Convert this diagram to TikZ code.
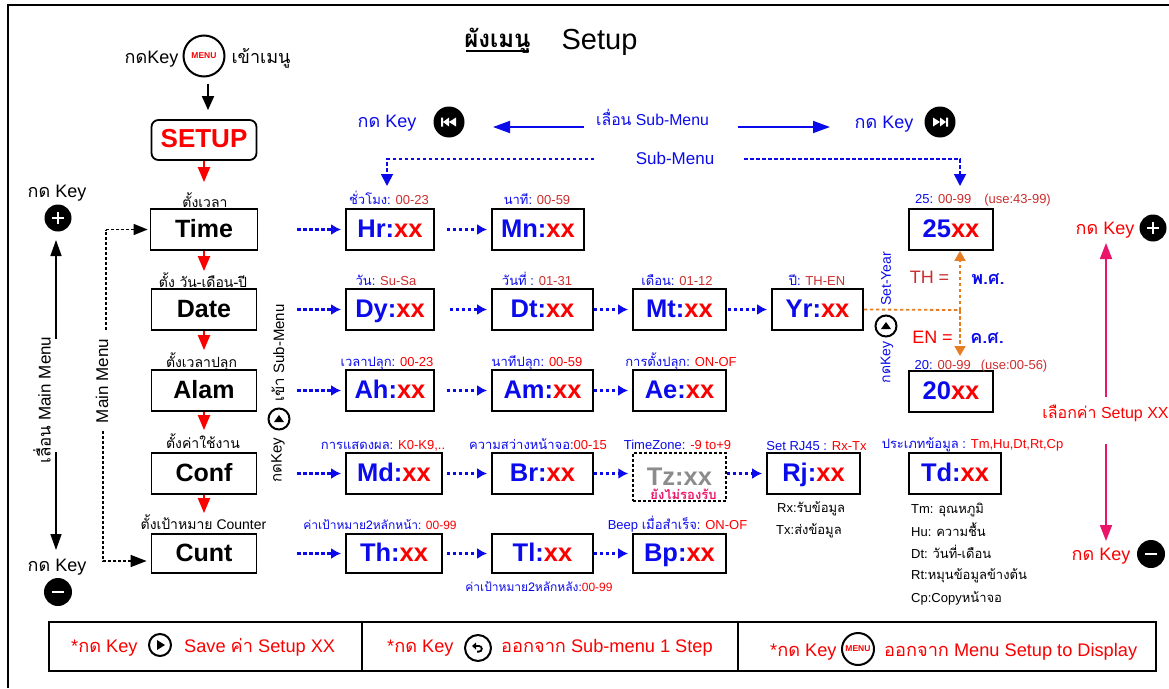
\documentclass[tikz,border=0pt]{standalone}
\usepackage{fontspec}
\setmainfont{Liberation Sans}
\newfontfamily\thaifont[Script=Thai]{Loma}
\usetikzlibrary{arrows.meta,positioning,calc}
\definecolor{keyblue}{RGB}{10,10,235}
\definecolor{keyred}{RGB}{250,0,0}
\definecolor{dimred}{RGB}{205,45,45}
\definecolor{keypink}{RGB}{235,20,105}
\definecolor{keyorange}{RGB}{230,125,35}
\newcommand{\thai}[1]{{\thaifont #1}}
\newcommand{\rd}[1]{{\color{keyred}#1}}
\newcommand{\dr}[1]{{\color{dimred}#1}}
\newcommand{\fs}[1]{\fontsize{#1}{#1}\selectfont}
\tikzset{
  mainbox/.style={rectangle,draw=black,line width=1.8pt,inner sep=0pt,
                  text height=18.5pt,text depth=3.5pt,font=\fs{25}\bfseries},
  subbox/.style={rectangle,draw=black,line width=1.8pt,inner sep=0pt,
                 text height=18.5pt,text depth=3.5pt,font=\fs{25.5}\bfseries,text=keyblue},
  toplabel/.style={font=\fs{13},text=keyblue,inner sep=0pt,anchor=base},
  mainlabel/.style={font=\fs{14},text=black,inner sep=0pt,anchor=base},
  notetext/.style={font=\fs{13},text=black,inner sep=0pt,anchor=base west},
  keytext/.style={font=\fs{18},inner sep=0pt,anchor=base},
  bartext/.style={font=\fs{18.2},text=keyred,inner sep=0pt,anchor=base west},
  sidetext/.style={inner sep=0pt,rotate=90},
  barbox/.style={rectangle,draw=black,line width=1.8pt,inner sep=0pt},
  blackbtn/.style={circle,fill=black,inner sep=0pt},
  ringbtn/.style={circle,draw=black,fill=white,line width=2pt,inner sep=0pt},
  menufont/.style={font=\fs{8.5}\bfseries,text=keyred},
  redarrow/.style={-{Triangle[length=15pt,width=12pt]},line width=2.2pt,keyred},
  blackarrow/.style={-{Triangle[length=14pt,width=12pt]},line width=1.8pt,black},
  longarrow/.style={-{Triangle[length=16pt,width=11pt]},line width=1.6pt,black},
  pinkarrow/.style={-{Triangle[length=16pt,width=12pt]},line width=1.8pt,keypink},
  bluearrow/.style={-{Triangle[length=17pt,width=12pt]},line width=1.8pt,keyblue},
  subarrow/.style={-{Latex[length=10pt,width=11pt]},line width=2.2pt,keyblue,
                   dash pattern=on 3.5pt off 2.5pt,shorten >=4pt},
  subdrop/.style={-{Triangle[length=12pt,width=12pt]},line width=1.8pt,keyblue,
                  dash pattern=on 3.5pt off 2.5pt},
  dotblack/.style={line width=1.5pt,black,dash pattern=on 3pt off 2pt},
  dotorange/.style={line width=1.8pt,keyorange,dash pattern=on 3.5pt off 2.5pt},
  plusmark/.pic={\draw[white,line width=2.6pt] (-6,0) -- (6,0) (0,-6) -- (0,6);},
  minusmark/.pic={\draw[white,line width=2.6pt] (-6,0) -- (6,0);},
  rewmark/.pic={\fill[white] (-8,-4.5) rectangle (-6,4.5) (-6,0) -- (0,-4.5) -- (0,4.5) -- cycle
                (0,0) -- (7,-4.5) -- (7,4.5) -- cycle;},
  fwdmark/.pic={\fill[white] (8,-4.5) rectangle (6,4.5) (6,0) -- (0,-4.5) -- (0,4.5) -- cycle
                (0,0) -- (-7,-4.5) -- (-7,4.5) -- cycle;},
  upmark/.pic={\fill[black] (-5,3) -- (5,3) -- (0,-4) -- cycle;},
  playmark/.pic={\fill[black] (-3,-5) -- (-3,5) -- (5,0) -- cycle;},
  backmark/.pic={\draw[black,line width=1.8pt] (-3,-2) -- (1,-2) arc (-90:90:2.8) -- (-1,3.6);
                 \fill[black] (-6,-2) -- (-2,-5.5) -- (-2,1.5) -- cycle;},
}
\begin{document}
\begin{tikzpicture}[x=1pt,y=-1pt]
  \useasboundingbox (0,0) rectangle (1169,688);
  % frame
  \draw[line width=1.8pt] (8,688) -- (8,5) -- (1169,5);
  % title
  \node[inner sep=0pt,anchor=base,font=\fs{24}\bfseries] (titleTh) at (497.5,47) {\thai{ผังเมนู}};
  \node[inner sep=0pt,anchor=base,font=\fs{29}] (titleEn) at (599.5,49) {Setup};
  \draw[line width=1.8pt] (466,51) -- (529,51);
  % entry into the menu
  \node[ringbtn,menufont,minimum size=41pt] (btnMenu) at (204,56) {MENU};
  \node[keytext] (menuKey) at (151.5,63) {\thai{กด}Key};
  \node[keytext] (menuIn) at (261,63) {\thai{เข้าเมนู}};
  \node[rectangle,rounded corners=7pt,draw=black,line width=1.8pt,minimum width=105pt,
        minimum height=40pt,inner sep=0pt,text height=18.5pt,text depth=3.5pt,
        font=\fs{26}\bfseries,text=keyred] (SETUP) at (204,140) {SETUP};
  \draw[blackarrow,shorten <=6pt,shorten >=9pt] ([xshift=4pt]btnMenu.south) -- ([xshift=4pt]SETUP.north);
  % main menu
  \foreach \n/\w/\cy/\h in {Time/107/229.5/41,Date/105/309.5/41,Alam/105/390.5/41,
                            Conf/105/473.5/41,Cunt/105/553.5/39}{
    \node[mainbox,minimum width=\w,minimum height=\h] (\n) at (204,\cy) {\n};
  }
  \foreach \a/\b/\g in {SETUP/Time/26,Time/Date/17,Date/Alam/19,Alam/Conf/22,Conf/Cunt/20}{
    \draw[redarrow,shorten >=\g pt] (\a) -- (\b);
  }
  \node[mainlabel] (lTime) at (205,207) {\thai{ตั้งเวลา}};
  \node[mainlabel] (lDate) at (203,287) {\thai{ตั้ง วัน-เดือน-ปี}};
  \node[mainlabel] (lAlam) at (201.5,367) {\thai{ตั้งเวลาปลุก}};
  \node[mainlabel] (lConf) at (203,448) {\thai{ตั้งค่าใช้งาน}};
  \node[mainlabel] (lCunt) at (203.5,529) {\thai{ตั้งเป้าหมาย} Counter};
  % sub menu boxes
  \foreach \n/\cx/\w/\cy/\h in {Hr/390/88/229.5/41,Mn/538/92/229.5/41,
                                Dy/390/88/309.5/41,Dt/542.5/101/309.5/41,Mt/679.5/93/309.5/41,Yr/817.5/91/309.5/41,
                                Ah/390/88/390.5/41,Am/542.5/101/390.5/41,Ae/679.5/93/390.5/41,
                                Md/394/96/473.5/41,Br/542.5/101/473.5/41,Rj/813.5/93/473.5/41,
                                Th/394/96/553.5/39,Tl/542.5/101/553.5/39,Bp/679.5/93/553.5/39}{
    \node[subbox,minimum width=\w,minimum height=\h] (\n) at (\cx,\cy) {\n:\rd{xx}};
  }
  \node[subbox,minimum width=84,minimum height=41] (yrTh) at (951,229.5) {25\rd{xx}};
  \node[subbox,minimum width=84,minimum height=41] (yrEn) at (951,391.5) {20\rd{xx}};
  \node[subbox,minimum width=92,minimum height=41] (Td) at (955,473.5) {Td:\rd{xx}};
  \node[rectangle,draw=black,line width=1.5pt,dash pattern=on 3pt off 2pt,minimum width=93,
        minimum height=48,inner sep=0pt] (Tz) at (679.5,477) {};
  \node[inner sep=0pt,anchor=base,font=\fs{25.5}\bfseries,text=black!45] (TzText) at (679.5,485) {Tz:xx};
  \node[inner sep=0pt,anchor=base,font=\fs{13}\bfseries,text=keypink] (TzNote) at (683.5,499) {\thai{ยังไม่รองรับ}};
  % connectors of the rows
  \foreach \a/\b/\g in {Time/Hr/39,Date/Dy/40,Alam/Ah/40,Conf/Md/40,Cunt/Th/40,
                        Hr/Mn/12,Dy/Dt/15,Ah/Am/12,Md/Br/4,Th/Tl/4,
                        Dt/Mt/0,Mt/Yr/1,Am/Ae/0,Tl/Bp/0}{
    \draw[subarrow,shorten <=\g pt] (\a) -- (\b);
  }
  \draw[subarrow] (Br.east) -- (Br.east -| Tz.west);
  \draw[subarrow] (Rj.west -| Tz.east) -- (Rj.west);
  % labels of the sub menu
  \node[toplabel] (lHr) at (389,204) {\thai{ชั่วโมง}: \dr{00-23}};
  \node[toplabel] (lMn) at (537,204) {\thai{นาที}: \dr{00-59}};
  \node[toplabel] (lDy) at (386,285) {\thai{วัน}: \dr{Su-Sa}};
  \node[toplabel] (lDt) at (537,285) {\thai{วันที่} : \dr{01-31}};
  \node[toplabel] (lMt) at (677,285) {\thai{เดือน}: \dr{01-12}};
  \node[toplabel] (lYr) at (817,285) {\thai{ปี}: \dr{TH-EN}};
  \node[toplabel] (lAh) at (387,366) {\thai{เวลาปลุก}: \rd{00-23}};
  \node[toplabel] (lAm) at (537,366) {\thai{นาทีปลุก}: \rd{00-59}};
  \node[toplabel] (lAe) at (681,366) {\thai{การตั้งปลุก}: \rd{ON-OF}};
  \node[toplabel] (lMd) at (383,449) {\thai{การแสดงผล}: \rd{K0-K9,..}};
  \node[toplabel] (lBr) at (538,449) {\thai{ความสว่างหน้าจอ}:\rd{00-15}};
  \node[toplabel] (lTz) at (677.5,449) {TimeZone: \rd{-9 to+9}};
  \node[toplabel] (lRj) at (816.5,450) {Set RJ45 : \rd{Rx-Tx}};
  \node[toplabel] (lTd) at (972.5,448) {\thai{ประเภทข้อมูล} : \rd{Tm,Hu,Dt,Rt,Cp}};
  \node[toplabel,font=\fs{12}] (lTh) at (380,529) {\thai{ค่าเป้าหมาย2หลักหน้า}: \rd{00-99}};
  \node[toplabel,font=\fs{12}] (lTl) at (539,591) {\thai{ค่าเป้าหมาย2หลักหลัง}:\rd{00-99}};
  \node[toplabel] (lBp) at (677.5,529) {Beep \thai{เมื่อสำเร็จ}: \rd{ON-OF}};
  \node[toplabel] (lTh25) at (983,203) {25: \dr{00-99}\hspace{13pt}\dr{(use:43-99)}};
  \node[toplabel] (lEn20) at (981,369) {20: \dr{00-99}\hspace{10pt}\dr{(use:00-56)}};
  % notes
  \node[notetext] (nRx) at (777,512) {Rx:\thai{รับข้อมูล}};
  \node[notetext] (nTx) at (776,534) {Tx:\thai{ส่งข้อมูล}};
  \node[notetext] (nTm) at (911,513) {Tm: \thai{อุณหภูมิ}};
  \node[notetext] (nHu) at (911,536) {Hu: \thai{ความชื้น}};
  \node[notetext] (nDt) at (911,558) {Dt: \thai{วันที่-เดือน}};
  \node[notetext] (nRt) at (911,579) {Rt:\thai{หมุนข้อมูลข้างต้น}};
  \node[notetext] (nCp) at (911,602) {Cp:Copy\thai{หน้าจอ}};
  % moving through the sub menu
  \node[keytext,text=keyblue] (keyPrev) at (387,127) {\thai{กด} Key};
  \node[blackbtn,minimum size=31pt] (btnPrev) at (449,122) {};
  \pic at (btnPrev) {rewmark};
  \node[inner sep=0pt,anchor=base,font=\fs{15.8},text=keyblue] (moveSub) at (652.5,125) {\thai{เลื่อน} Sub-Menu};
  \coordinate (moveL) at (584,127);
  \coordinate (moveLend) at (493,127);
  \coordinate (moveR) at (738,127);
  \coordinate (moveRend) at (830,127);
  \draw[bluearrow] (moveL) -- (moveLend);
  \draw[bluearrow] (moveR) -- (moveRend);
  \node[keytext,text=keyblue] (keyNext) at (884,128) {\thai{กด} Key};
  \node[blackbtn,minimum size=31pt] (btnNext) at (940,122) {};
  \pic at (btnNext) {fwdmark};
  \node[inner sep=0pt,anchor=base,font=\fs{17},text=keyblue] (subName) at (675,164) {Sub-Menu};
  \coordinate (subL) at (594,159);
  \coordinate (subLend) at (387,186);
  \coordinate (subR) at (744,159);
  \coordinate (subRend) at (960,186);
  \draw[subdrop] (subL) -| (subLend);
  \draw[subdrop] (subR) -| (subRend);
  % left side
  \node[keytext] (keyUp) at (57,197) {\thai{กด} Key};
  \node[blackbtn,minimum size=27pt] (btnPlus) at (58,218) {};
  \pic at (btnPlus) {plusmark};
  \node[keytext] (keyDown) at (57,571) {\thai{กด} Key};
  \node[blackbtn,minimum size=28pt] (btnMinus) at (58,592) {};
  \pic at (btnMinus) {minusmark};
  \node[sidetext,font=\fs{17}] (moveMain) at (42,400) {\thai{เลื่อน} Main Menu};
  \coordinate (mainUp) at (56,339);
  \coordinate (mainUpEnd) at (56,240);
  \coordinate (mainDown) at (56,452);
  \coordinate (mainDownEnd) at (56,550);
  \draw[longarrow] (mainUp) -- (mainUpEnd);
  \draw[longarrow] (mainDown) -- (mainDownEnd);
  % main menu return line
  \node[sidetext,font=\fs{17}] (mainName) at (102,381) {Main Menu};
  \coordinate (mmTop) at (106,229.5);
  \coordinate (mmTopEnd) at (106,330);
  \coordinate (mmBot) at (103,431);
  \coordinate (mmBotEnd) at (103,561);
  \draw[dotblack] (mmTopEnd) -- (mmTop);
  \draw[dotblack,-{Triangle[length=14pt,width=11pt]},shorten >=2pt] (mmTop) -- (Time.west);
  \draw[dotblack,-{Triangle[length=16pt,width=12pt]},shorten >=4pt] (mmBot) |- (mmBotEnd -| Cunt.west);
  % key into sub menu
  \node[ringbtn,minimum size=21pt] (btnSub) at (279,419) {};
  \pic at (btnSub) {upmark};
  \node[sidetext,font=\fs{15}] (enterSub) at (278,353) {\thai{เข้า} Sub-Menu};
  \node[sidetext,font=\fs{15}] (enterKey) at (278,460) {\thai{กด}Key};
  % year
  \node[sidetext,font=\fs{14},text=keyblue] (setYear) at (886,279) {Set-Year};
  \node[ringbtn,minimum size=21pt] (btnYear) at (886,326) {};
  \pic at (btnYear) {upmark};
  \node[sidetext,font=\fs{14},text=keyblue] (setKey) at (887,362.5) {\thai{กด}Key};
  \coordinate (yrJoin) at (960,310);
  \coordinate (yrDown) at (960,356);
  \draw[dotorange] (Yr.east) -- (yrJoin);
  \draw[dotorange,-{Triangle[length=10pt,width=11pt]}] (yrJoin) -- (yrJoin |- yrTh.south);
  \draw[dotorange,-{Triangle[length=10pt,width=11pt]}] (yrJoin) -- (yrDown);
  \node[inner sep=0pt,anchor=base,font=\fs{18},text=dimred] (thEq) at (929.5,283) {TH =};
  \node[inner sep=0pt,anchor=base,font=\fs{18}\bfseries,text=keyblue] (thYear) at (988,284) {\thai{พ.ศ.}};
  \node[inner sep=0pt,anchor=base,font=\fs{18},text=keyred] (enEq) at (932.5,343) {EN =};
  \node[inner sep=0pt,anchor=base,font=\fs{18}\bfseries,text=keyblue] (enYear) at (987,343) {\thai{ค.ศ.}};
  % right side
  \node[keytext,text=keyred] (rKeyUp) at (1105,234) {\thai{กด} Key};
  \node[blackbtn,minimum size=27pt] (rPlus) at (1153,228) {};
  \pic at (rPlus) {plusmark};
  \node[inner sep=0pt,anchor=base,font=\fs{16},text=keyred] (rChoose) at (1105.5,418) {\thai{เลือกค่า} Setup XX};
  \coordinate (rUp) at (1106,397);
  \coordinate (rUpEnd) at (1106,243);
  \coordinate (rDown) at (1106,444);
  \coordinate (rDownEnd) at (1106,541);
  \draw[pinkarrow] (rUp) -- (rUpEnd);
  \draw[pinkarrow] (rDown) -- (rDownEnd);
  \node[keytext,text=keyred] (rKeyDown) at (1101,560) {\thai{กด} Key};
  \node[blackbtn,minimum size=28pt] (rMinus) at (1151,554) {};
  \pic at (rMinus) {minusmark};
  % bottom bar
  \node[barbox,minimum width=313,minimum height=49] (barA) at (205.5,646.5) {};
  \node[barbox,minimum width=376,minimum height=49] (barB) at (550,646.5) {};
  \node[barbox,minimum width=418,minimum height=49] (barC) at (947,646.5) {};
  \node[bartext] (aKey) at (71,652) {*\thai{กด} Key};
  \node[ringbtn,minimum size=22pt] (aBtn) at (160,645) {};
  \pic at (aBtn) {playmark};
  \node[bartext] (aText) at (184,652) {Save \thai{ค่า} Setup XX};
  \node[bartext] (bKey) at (387,652) {*\thai{กด} Key};
  \node[ringbtn,minimum size=26pt] (bBtn) at (478,648) {};
  \pic at (bBtn) {backmark};
  \node[bartext] (bText) at (501,652) {\thai{ออกจาก} Sub-menu 1 Step};
  \node[bartext] (cKey) at (770,656) {*\thai{กด} Key};
  \node[ringbtn,menufont,minimum size=32pt] (cBtn) at (858,649) {MENU};
  \node[bartext] (cText) at (884,656) {\thai{ออกจาก} Menu Setup to Display};
\end{tikzpicture}
\end{document}
